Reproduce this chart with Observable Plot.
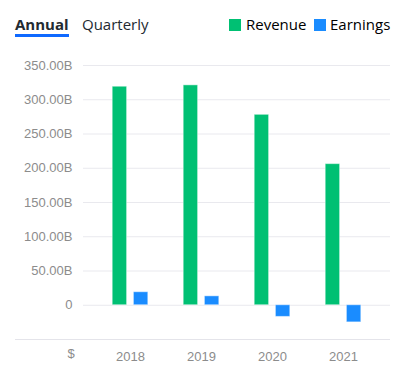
<!DOCTYPE html>
<html><head><meta charset="utf-8">
<script src="https://cdn.jsdelivr.net/npm/d3@7"></script>
<script src="https://cdn.jsdelivr.net/npm/@observablehq/plot@0.6"></script>
<style>
body{margin:0;background:#fff;}
#wrap{position:relative;width:404px;height:372px;overflow:hidden;font-family:"Open Sans",sans-serif;}
.t{position:absolute;top:13px;font-size:15px;line-height:22px;color:#232a31;white-space:nowrap;}
.sw{position:absolute;top:19px;width:12px;height:12px;}
#ul{position:absolute;left:15px;top:34px;width:54px;height:2.5px;background:#0f69ff;}
#chart{position:absolute;left:0;top:50px;}
</style></head>
<body><div id="wrap">
<div class="t" style="left:15px;font-weight:700;">Annual</div>
<div id="ul"></div>
<div class="t" style="left:82px;">Quarterly</div>
<div id="legend"></div>
<div id="chart"></div>
</div>
<script>
const years = ["2018", "2019", "2020", "2021"];
const series = ["Revenue", "Earnings"];
const revenue = [319, 321, 278, 206];
const earnings = [19, 13, -17, -25];
const colors = ["#00c073", "#1a8cff"];
const yTicks = [0, 50, 100, 150, 200, 250, 300, 350];

// legend
const legend = document.getElementById("legend");
const legPos = [[229, 246], [314, 330]];
series.forEach((s, i) => {
  const sw = document.createElement("div");
  sw.className = "sw"; sw.style.left = legPos[i][0] + "px"; sw.style.background = colors[i];
  legend.appendChild(sw);
  const t = document.createElement("div");
  t.className = "t"; t.style.left = legPos[i][1] + "px"; t.style.color = "#000"; t.textContent = s;
  legend.appendChild(t);
});

const fmt = d => d === 0 ? "0" : d.toFixed(2) + "B";
const barStyle = {stroke: "white", strokeOpacity: 0.45};

const chart = Plot.plot({
  width: 404, height: 322,
  marginLeft: 83, marginRight: 14, marginTop: 15, marginBottom: 33,
  style: {fontFamily: "'Liberation Sans', Arial, sans-serif", fontSize: "13px", color: "#8c8c8c", background: "transparent"},
  x: {domain: years, paddingInner: 0, paddingOuter: 0.162, round: false, label: null, tickSize: 0, tickPadding: 12},
  y: {domain: [-50, 350], axis: null},
  marks: [
    Plot.ruleY(yTicks, {stroke: "#e9e9ee", strokeWidth: 1}),
    Plot.ruleY([-50], {stroke: "#e4e4ea", strokeWidth: 1, insetLeft: -68}),
    Plot.barY(years, {x: years, y: revenue, fill: colors[0], insetLeft: 17.7, insetRight: 38.9, ...barStyle}),
    Plot.barY(years, {x: years, y: earnings, fill: colors[1], insetLeft: 38.9, insetRight: 17.7, ...barStyle}),
    Plot.axisY(yTicks, {tickSize: 0, tickPadding: 11, tickFormat: fmt, label: null, fill: "#8c8c8c"}),
    Plot.text(["$"], {frameAnchor: "bottom-left", dx: -16, dy: 18, fill: "#8c8c8c"})
  ]
});
document.getElementById("chart").appendChild(chart);
</script>
</body></html>
